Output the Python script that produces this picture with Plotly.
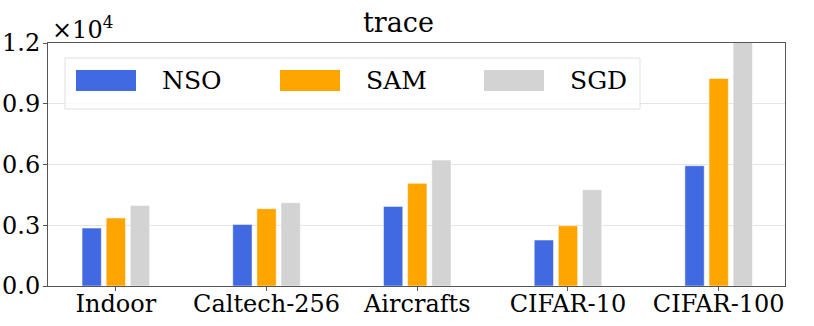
import plotly.graph_objects as go

# data (y in units of 1e4 shown on axis)
datasets = ["Indoor", "Caltech-256", "Aircrafts", "CIFAR-10", "CIFAR-100"]
methods = ["NSO", "SAM", "SGD"]
nso = [2860, 3040, 3930, 2270, 5940]
sam = [3360, 3820, 5070, 2980, 10250]
sgd = [3980, 4110, 6220, 4750, 12300]
colors = ["#4169E1", "#FFA500", "#D3D3D3"]
y_ticks = [0, 3000, 6000, 9000, 12000]
y_tick_labels = ["0.0", "0.3", "0.6", "0.9", "1.2"]

W, H = 814, 326
L, R, T, B = 48, 29, 43, 40
FONT = "DejaVu Serif"

fig = go.Figure()
for name, vals, c in zip(methods, [nso, sam, sgd], colors):
    fig.add_trace(go.Bar(
        x=datasets, y=vals, name=name,
        marker=dict(color=c, line=dict(color="rgba(255,255,255,0.5)", width=1)),
        showlegend=False,
    ))

# hand-made legend box (wide swatches like matplotlib)
pw, ph = W - L - R, H - T - B
def px(x):
    return (x - L) / pw
def py(y):
    return (H - B - y) / ph

shapes = [dict(type="rect", xref="paper", yref="paper",
               x0=px(65), x1=px(640), y0=py(109), y1=py(58),
               line=dict(color="#e0e0e0", width=1), fillcolor="rgba(255,255,255,0.8)",
               layer="above")]
annotations = []
for i, (name, c) in enumerate(zip(methods, colors)):
    sx = 76 + i * 204
    shapes.append(dict(type="rect", xref="paper", yref="paper",
                       x0=px(sx), x1=px(sx + 60), y0=py(91), y1=py(70),
                       line=dict(width=0), fillcolor=c, layer="above"))
    annotations.append(dict(text=name, xref="paper", yref="paper",
                            x=px(sx + 84), y=py(81), xanchor="left", yanchor="middle",
                            showarrow=False, font=dict(size=25, color="black", family=FONT)))

annotations.append(dict(text="trace", xref="paper", yref="paper",
                        x=px(398), y=py(23), xanchor="center", yanchor="middle",
                        showarrow=False, font=dict(size=27, color="black", family=FONT)))
annotations.append(dict(text="×10<sup>4</sup>", xref="paper", yref="paper",
                        x=px(50), y=py(28), xanchor="left", yanchor="middle",
                        showarrow=False, font=dict(size=24, color="black", family=FONT)))

fig.update_layout(
    width=W, height=H,
    margin=dict(l=L, r=R, t=T, b=B, autoexpand=False),
    paper_bgcolor="white", plot_bgcolor="white",
    barmode="group", bargap=0.52, bargroupgap=0.2,
    font=dict(family=FONT, size=24, color="black"),
    shapes=shapes, annotations=annotations,
    xaxis=dict(range=[-0.45, 4.44], showline=True, linecolor="#555", linewidth=1,
               mirror=True, ticks="outside", ticklen=4, tickcolor="#555",
               ticklabelstandoff=-8,
               automargin=False, tickfont=dict(size=24, family=FONT)),
    yaxis=dict(range=[0, 12000], tickvals=y_ticks, ticktext=y_tick_labels,
               showline=True, linecolor="#555", linewidth=1, mirror=True,
               ticks="outside", ticklen=4, tickcolor="#555",
               ticklabelstandoff=-2,
               showgrid=True, gridcolor="#e5e5e5", gridwidth=1, zeroline=False,
               automargin=False, tickfont=dict(size=24, family=FONT)),
)

# drop the browser's default 8px body margin so the figure sits at (0, 0)
fig.write_html("out.html", config={"displayModeBar": False},
               post_script="document.body.style.margin='0';")
